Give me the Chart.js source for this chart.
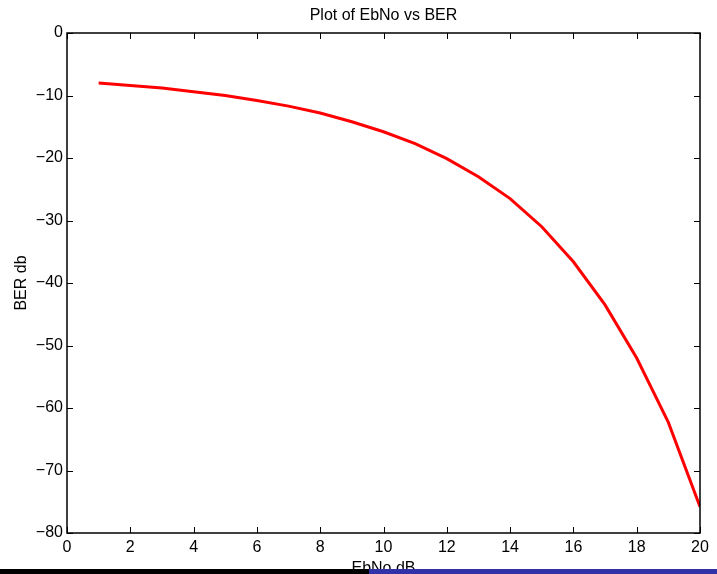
<!DOCTYPE html>
<html>
<head>
<meta charset="utf-8">
<script src="https://cdn.jsdelivr.net/npm/chart.js@4/dist/chart.umd.min.js"></script>
<style>
  html, body { margin: 0; padding: 0; background: #fff; overflow: hidden; }
  #wrap { position: relative; width: 717px; height: 574px; }
  #bar-black { position: absolute; left: 0; top: 569px; width: 717px; height: 5px; background: #000; }
  #bar-blue { position: absolute; left: 369px; top: 569px; width: 348px; height: 5px; background: #3232a8; }
</style>
</head>
<body>
<div id="wrap">
  <canvas id="ber-chart" width="717" height="574"></canvas>
  <div id="bar-black"></div>
  <div id="bar-blue"></div>
</div>
<script>
// EbNo (dB) and BER (dB)
const ebno = [1, 2, 3, 4, 5, 6, 7, 8, 9, 10, 11, 12, 13, 14, 15, 16, 17, 18, 19, 20];
const berDb = [
  -8.0, -8.4, -8.8, -9.4, -10.0, -10.8, -11.7, -12.8, -14.2, -15.8,
  -17.7, -20.1, -23.0, -26.5, -31.0, -36.6, -43.5, -52.0, -62.3, -75.8,
];
const xTicks = [0, 2, 4, 6, 8, 10, 12, 14, 16, 18, 20];
const yTicks = [0, -10, -20, -30, -40, -50, -60, -70, -80];

const FONT = 'Liberation Sans, Arial, Helvetica, sans-serif';
const minus = (v) => String(v).replace('-', '\u2212');

// Matlab-style box with inward ticks on all four sides
const boxAxes = {
  id: 'boxAxes',
  afterDatasetsDraw(c) {
    const { ctx, chartArea: a } = c;
    const x = c.scales.x;
    const y = c.scales.y;
    const len = 6;
    ctx.save();
    ctx.strokeStyle = '#000';
    ctx.lineWidth = 1;
    ctx.beginPath();
    xTicks.forEach((v) => {
      const px = Math.round(x.getPixelForValue(v)) + 0.5;
      ctx.moveTo(px, a.bottom);
      ctx.lineTo(px, a.bottom - len);
      ctx.moveTo(px, a.top);
      ctx.lineTo(px, a.top + len);
    });
    yTicks.forEach((v) => {
      const py = Math.round(y.getPixelForValue(v)) + 0.5;
      ctx.moveTo(a.left, py);
      ctx.lineTo(a.left + len, py);
      ctx.moveTo(a.right, py);
      ctx.lineTo(a.right - len, py);
    });
    ctx.stroke();
    ctx.lineWidth = 1.5;
    ctx.strokeRect(a.left, a.top, a.right - a.left, a.bottom - a.top);
    ctx.restore();
  },
};

const chart = new Chart(document.getElementById('ber-chart'), {
  type: 'line',
  data: {
    datasets: [{
      data: ebno.map((e, i) => ({ x: e, y: berDb[i] })),
      borderColor: '#ff0000',
      borderWidth: 3,
      pointRadius: 0,
      tension: 0,
      fill: false,
    }],
  },
  options: {
    responsive: false,
    animation: false,
    layout: {
      padding: { top: 0, right: 17, bottom: 0, left: 0 },
    },
    scales: {
      x: {
        type: 'linear',
        min: 0,
        max: 20,
        afterFit: (s) => { s.height = 41; },
        afterBuildTicks: (s) => { s.ticks = xTicks.map((v) => ({ value: v })); },
        grid: { display: false, drawTicks: false },
        border: { display: false },
        ticks: {
          color: '#000',
          padding: 5,
          maxRotation: 0,
          font: { family: FONT, size: 16 },
          callback: (v) => minus(v),
        },
        title: {
          display: true,
          text: 'EbNo dB',
          color: '#000',
          font: { family: FONT, size: 16 },
          padding: { top: 0, bottom: -4 },
        },
      },
      y: {
        min: -80,
        max: 0,
        afterFit: (s) => { s.width = 67; },
        afterBuildTicks: (s) => { s.ticks = yTicks.map((v) => ({ value: v })); },
        grid: { display: false, drawTicks: false },
        border: { display: false },
        ticks: {
          color: '#000',
          padding: 4,
          font: { family: FONT, size: 16 },
          callback: (v) => minus(v),
        },
        title: {
          display: true,
          text: 'BER db',
          color: '#000',
          font: { family: FONT, size: 16 },
          padding: { top: 12, bottom: 0 },
        },
      },
    },
    plugins: {
      legend: { display: false },
      tooltip: { enabled: false },
      title: {
        display: true,
        fullSize: false,
        text: 'Plot of EbNo vs BER',
        color: '#000',
        font: { family: FONT, size: 16, weight: 'normal' },
        padding: { top: 6, bottom: 7.8 },
      },
    },
  },
  plugins: [boxAxes],
});
</script>
</body>
</html>
